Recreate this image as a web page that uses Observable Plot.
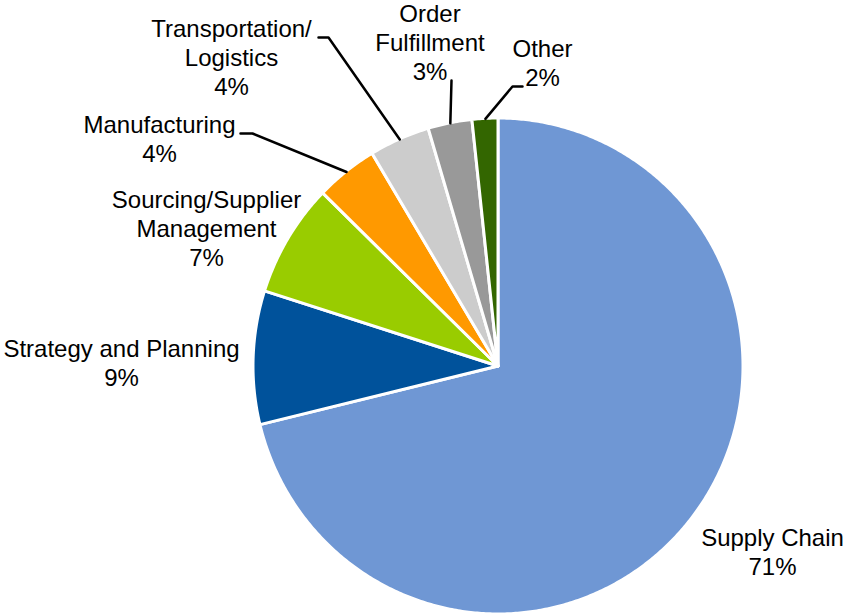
<!DOCTYPE html>
<html>
<head>
<meta charset="utf-8">
<script src="https://cdn.jsdelivr.net/npm/d3@7"></script>
<script src="https://cdn.jsdelivr.net/npm/@observablehq/plot@0.6"></script>
<style>
  html, body { margin: 0; padding: 0; background: #fff; overflow: hidden; }
  #chart svg { display: block; }
</style>
</head>
<body>
<div id="chart"></div>
<script>
// ---- data ----
const categories = ["Supply Chain", "Strategy and Planning", "Sourcing/Supplier Management", "Manufacturing", "Transportation/Logistics", "Order Fulfillment", "Other"];
const labelTexts = ["Supply Chain", "Strategy and Planning", "Sourcing/Supplier\nManagement", "Manufacturing", "Transportation/\nLogistics", "Order\nFulfillment", "Other"];
const shares = [71.2, 8.7, 7.4, 4.1, 4.0, 2.9, 1.7];
const colors = ["#6F97D4", "#00529B", "#99CC00", "#FF9900", "#CCCCCC", "#999999", "#336600"];

// ---- layout (pixels) ----
const W = 844, H = 614;
const pie = {cx: 498, cy: 366, rx: 245, ry: 248};
const labelPos = [[772, 574], [121, 385], [206, 265], [159, 161], [231, 94], [429.5, 79], [542, 85]];
const leaderElbows = {
  "Manufacturing": [[240, 133], [252, 133]],
  "Transportation/Logistics": [[318, 37], [328, 37]],
  "Order Fulfillment": [[451, 80]],
  "Other": [[522, 86], [512, 86]]
};

const total = d3.sum(shares);
const pt = (frac) => {
  const a = frac * 2 * Math.PI;
  return {x: pie.cx + pie.rx * Math.sin(a), y: pie.cy - pie.ry * Math.cos(a)};
};

// slice polygons computed from the shares
const slicePts = [];
const midPts = {};
let cum = 0;
categories.forEach((cat, i) => {
  const f0 = cum / total, f1 = (cum + shares[i]) / total;
  const n = Math.max(4, Math.ceil((f1 - f0) * 720));
  for (let k = 0; k <= n; k++) {
    const p = pt(f0 + (f1 - f0) * k / n);
    slicePts.push({cat, x: p.x, y: p.y, cx: pie.cx, cy: pie.cy});
  }
  midPts[cat] = pt((f0 + f1) / 2);
  cum += shares[i];
});

const labels = categories.map((cat, i) => ({
  cat,
  text: labelTexts[i] + "\n" + Math.round(shares[i]) + "%",
  x: labelPos[i][0],
  y: labelPos[i][1]
}));

const leaders = [];
for (const [cat, elbows] of Object.entries(leaderElbows)) {
  elbows.forEach(([x, y]) => leaders.push({cat, x, y}));
  leaders.push({cat, x: midPts[cat].x, y: midPts[cat].y});
}

const chart = Plot.plot({
  width: W,
  height: H,
  margin: 0,
  style: {background: "#fff", fontFamily: "'Liberation Sans', Arial, sans-serif"},
  x: {domain: [0, W], range: [0, W], axis: null},
  y: {domain: [0, H], range: [0, H], axis: null},
  color: {domain: categories, range: colors},
  marks: [
    Plot.area(slicePts, {x1: "x", y1: "y", x2: "cx", y2: "cy", z: "cat", fill: "cat", stroke: "white", strokeWidth: 3, strokeLinejoin: "round"}),
    Plot.line(leaders, {x: "x", y: "y", z: "cat", stroke: "black", strokeWidth: 2.5}),
    Plot.text(labels, {x: "x", y: "y", text: "text", fill: "black", fontSize: 24, lineHeight: 1.19, lineAnchor: "bottom", textAnchor: "middle"})
  ]
});
document.getElementById("chart").appendChild(chart);
</script>
</body>
</html>
